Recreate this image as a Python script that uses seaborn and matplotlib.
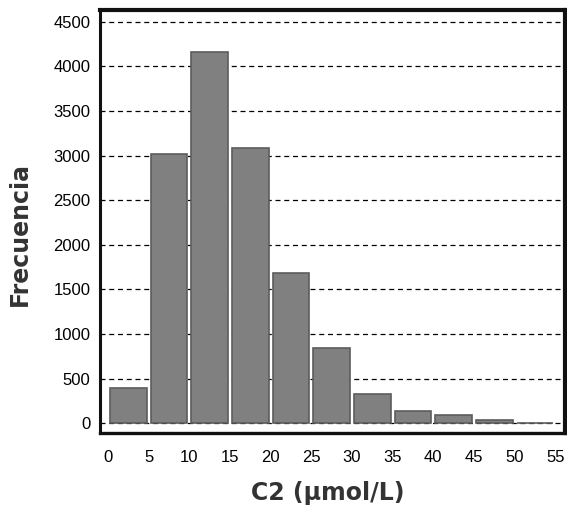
import numpy as np
import pandas as pd
import matplotlib
matplotlib.use("Agg")
import matplotlib.pyplot as plt
from matplotlib.ticker import MultipleLocator
import seaborn as sns

# Frequency distribution of C2 concentrations (µmol/L), 5-unit bins
bin_edges = [0, 5, 10, 15, 20, 25, 30, 35, 40, 45, 50, 55]
counts = [390, 3020, 4155, 3080, 1685, 840, 325, 138, 92, 37, 6]
x_ticks = [0, 5, 10, 15, 20, 25, 30, 35, 40, 45, 50, 55]
y_ticks = [0, 500, 1000, 1500, 2000, 2500, 3000, 3500, 4000, 4500]

centers = [(a + b) / 2 for a, b in zip(bin_edges[:-1], bin_edges[1:])]
df = pd.DataFrame({"c2": centers, "n": counts})

sns.set_style("white")
plt.rcParams["font.family"] = ["Liberation Sans Narrow", "Liberation Sans", "DejaVu Sans"]

fig = plt.figure(figsize=(5.67, 5.11), dpi=100)
ax = fig.add_axes([100 / 567, 1 - 433 / 511, 465 / 567, 423 / 511])

sns.histplot(data=df, x="c2", weights="n", bins=bin_edges, shrink=0.9,
             color="#808080", edgecolor="#5c5c5c", linewidth=1.2, alpha=1,
             ax=ax, zorder=3)

ax.set_xlim(-1.0, 56.2)
ax.set_ylim(-109, 4631)

ax.set_xticks(x_ticks)
ax.set_xticklabels([str(v) for v in x_ticks])
ax.set_yticks(y_ticks)
ax.set_yticklabels([str(v) for v in y_ticks])
ax.yaxis.set_minor_locator(MultipleLocator(100))

ax.yaxis.grid(True, which="major", color="black", linestyle=(0, (4, 3)),
              linewidth=0.9, zorder=1)
ax.xaxis.grid(False)
ax.set_axisbelow(True)

ax.tick_params(axis="x", direction="in", length=7, width=1.2, pad=12,
               labelsize=12, colors="black")
ax.tick_params(axis="y", which="major", direction="in", length=4, width=1.8,
               pad=7, labelsize=12, colors="black")
ax.tick_params(axis="y", which="minor", direction="in", length=3, width=1.5,
               colors="black")

for side, lw in [("left", 2.2), ("bottom", 2.4), ("top", 3.0), ("right", 3.0)]:
    ax.spines[side].set_visible(True)
    ax.spines[side].set_color("#111111")
    ax.spines[side].set_linewidth(lw)

ax.set_xlabel("C2 (µmol/L)", fontsize=17, fontweight="bold",
              family=["DejaVu Sans"], color="#333333", va="center")
ax.set_ylabel("Frecuencia", fontsize=17, fontweight="bold",
              family=["DejaVu Sans"], color="#333333", va="center")
ax.xaxis.set_label_coords((328 - 100) / 465, -(493 - 433) / 423)
ax.yaxis.set_label_coords((20 - 100) / 465, (433 - 234) / 423)

fig.savefig("out.png", dpi=100)
